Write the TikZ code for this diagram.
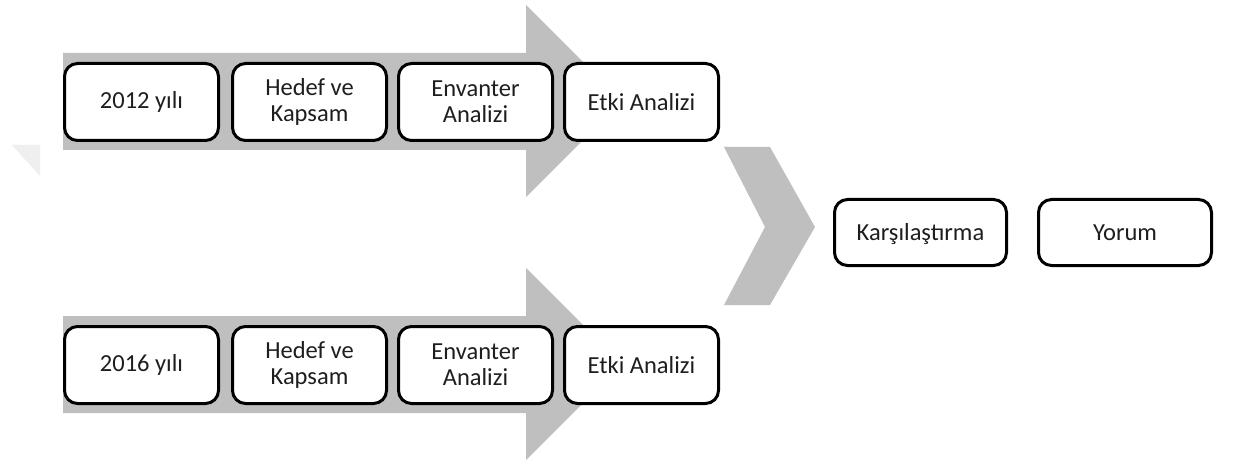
\documentclass[tikz,border=0pt]{standalone}
\usepackage{fontspec}
\setmainfont{Carlito}
\definecolor{arrowgray}{HTML}{BFBFBF}
\definecolor{fadegray}{HTML}{EFEFEF}
\definecolor{txt}{HTML}{1E1E1E}
\begin{document}
\begin{tikzpicture}[x=1pt,y=-1pt,
  stage/.style={draw=black, line width=3pt, rounded corners=13pt, fill=white,
    minimum width=154pt, minimum height=77pt, align=center, inner sep=0pt,
    text=txt, font=\fontsize{24.5}{26}\selectfont},
  wide/.style={stage, minimum height=66pt}]
\useasboundingbox (0,0) rectangle (1235,468);
\fill[white] (0,0) rectangle (1235,468);
% faint remnant triangle
\fill[fadegray] (12,145) -- (40,145) -- (40,176) -- cycle;
% big arrows
\fill[arrowgray] (63,53) -- (526,53) -- (526,5) -- (622,101) -- (526,197) -- (526,150) -- (63,150) -- cycle;
\fill[arrowgray] (63,316) -- (526,316) -- (526,268) -- (622,364) -- (526,460) -- (526,413) -- (63,413) -- cycle;
% chevron
\fill[arrowgray] (724,147) -- (770,147) -- (815,227) -- (770,305) -- (724,305) -- (765,227) -- cycle;
% top row
\node[stage] (a1) at (141.5,102) {2012 yılı};
\node[stage] (a2) at (309.5,102) {Hedef ve\\Kapsam};
\node[stage] (a3) at (475.5,102) {Envanter\\Analizi};
\node[stage] (a4) at (641.5,102) {Etki Analizi};
% bottom row
\node[stage] (b1) at (141.5,365) {2016 yılı};
\node[stage] (b2) at (309.5,365) {Hedef ve\\Kapsam};
\node[stage] (b3) at (475.5,365) {Envanter\\Analizi};
\node[stage] (b4) at (641.5,365) {Etki Analizi};
% right
\node[wide, minimum width=172pt] (k) at (920.5,232.5) {\vphantom{Yorum}\smash{Karşılaştırma}};
\node[wide, minimum width=173pt] (y) at (1125,232.5) {Yorum};
\end{tikzpicture}
\end{document}
